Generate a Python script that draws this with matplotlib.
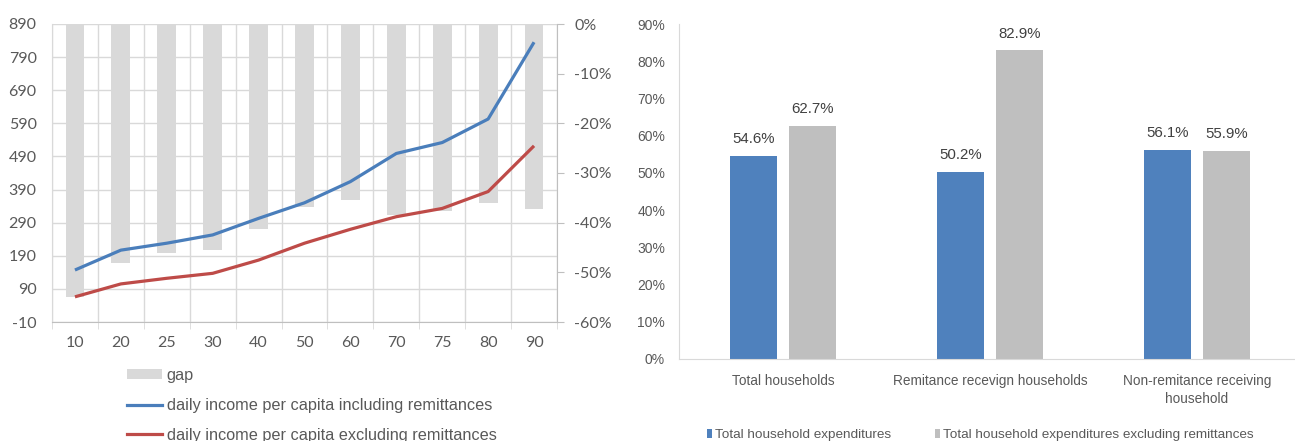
import matplotlib
matplotlib.use("Agg")
import matplotlib.pyplot as plt
from matplotlib.patches import Patch
from matplotlib.lines import Line2D
from matplotlib.ticker import FuncFormatter, FixedLocator

plt.rcParams["axes.unicode_minus"] = False

# ---- Income by percentile ----
percentiles = ["10", "20", "25", "30", "40", "50", "60", "70", "75", "80", "90"]
income_incl = [147, 207, 228, 253, 303, 350, 414, 499, 532, 603, 835]
income_excl = [66, 105, 122, 137, 177, 228, 270, 308, 333, 384, 522]
gap_pct = [-0.550, -0.481, -0.461, -0.455, -0.413, -0.368, -0.354, -0.385, -0.376, -0.360, -0.373]

# ---- Expenditure shares by household type ----
household_types = ["Total households", "Remitance recevign households",
                   "Non-remitance receiving\nhousehold"]
share_total = [0.546, 0.502, 0.561]
share_excl = [0.627, 0.829, 0.559]

BLUE_LINE = "#4A7EBB"
RED_LINE = "#BE4B48"
GAP_GREY = "#D9D9D9"
BAR_BLUE = "#4F81BD"
BAR_GREY = "#BFBFBF"
TXT = "#595959"
GRID = "#D9D9D9"

W, H = 1295, 441
fig = plt.figure(figsize=(W / 100, H / 100), dpi=100)

def fx(px):
    return px / W

def fy(py):
    return 1 - py / H

lato = ["Lato", "DejaVu Sans"]
arial = ["Liberation Sans", "DejaVu Sans"]

def style_labels(labels, family, size, color=TXT):
    for lab in labels:
        lab.set_fontfamily(family)
        lab.set_fontsize(size)
        lab.set_color(color)

# ---------------- left panel ----------------
pos_left = [fx(52), fy(322), fx(557) - fx(52), fy(24) - fy(322)]
ax = fig.add_axes(pos_left)
ax.set_zorder(0)
x = list(range(len(percentiles)))
ax.set_xlim(-0.5, len(percentiles) - 0.5)
ax.set_ylim(-10, 890)
ax.set_yticks(list(range(-10, 891, 100)))
ax.set_xticks(x)
ax.set_xticklabels(percentiles)
ax.xaxis.set_minor_locator(FixedLocator([i + 0.5 for i in range(-1, len(percentiles))]))
ax.grid(True, which="major", axis="y", color=GRID, lw=1)
ax.grid(True, which="minor", axis="x", color=GRID, lw=1)
ax.set_axisbelow(True)
ax.tick_params(axis="x", which="major", length=0, pad=10)
ax.tick_params(axis="x", which="minor", length=5, color=GRID)
ax.tick_params(axis="y", length=0, pad=11)
style_labels(ax.get_xticklabels() + ax.get_yticklabels(), lato, 11.5)
for s in ["top", "right"]:
    ax.spines[s].set_visible(False)
ax.spines["left"].set_color(GRID)
ax.spines["bottom"].set_color("#BFBFBF")

# gap bars on the percentage axis
ax_gap = ax.twinx()
ax_gap.set_zorder(1)
ax_gap.patch.set_visible(False)
ax_gap.set_ylim(-0.6, 0)
ax_gap.bar(x, gap_pct, width=0.41, color=GAP_GREY, zorder=2)
ax_gap.set_yticks([-0.6, -0.5, -0.4, -0.3, -0.2, -0.1, 0.0])
ax_gap.yaxis.set_major_formatter(
    FuncFormatter(lambda v, p: "0%" if abs(v) < 1e-9 else f"{v:.0%}"))
ax_gap.tick_params(axis="y", length=5, color="#BFBFBF", pad=7.5)
style_labels(ax_gap.get_yticklabels(), lato, 11.5)
for s in ["top", "left", "bottom"]:
    ax_gap.spines[s].set_visible(False)
ax_gap.spines["right"].set_color("#BFBFBF")

# income lines on top
ax_line = ax.twinx()
ax_line.set_zorder(2)
ax_line.patch.set_visible(False)
ax_line.set_ylim(ax.get_ylim())
ax_line.plot(x, income_incl, color=BLUE_LINE, lw=2.3, solid_capstyle="butt")
ax_line.plot(x, income_excl, color=RED_LINE, lw=2.3, solid_capstyle="butt")
ax_line.axis("off")

left_handles = [
    Patch(facecolor=GAP_GREY, edgecolor="none"),
    Line2D([], [], color=BLUE_LINE, lw=2.3),
    Line2D([], [], color=RED_LINE, lw=2.3),
]
left_labels = ["gap",
               "daily income per capita including remittances",
               "daily income per capita excluding remittances"]
fig.legend(left_handles, left_labels, loc="upper left",
           bbox_to_anchor=(fx(127), fy(368)), frameon=False,
           prop=dict(family=arial, size=11.7),
           labelcolor=TXT, handlelength=2.15, handleheight=0.6,
           handletextpad=0.3, labelspacing=0.92, borderaxespad=0, borderpad=0)

# ---------------- right panel ----------------
pos_right = [fx(679), fy(359), fx(1295) - fx(679), fy(24) - fy(359)]
bx = fig.add_axes(pos_right)
c = list(range(len(household_types)))
bw = 0.227
off = 0.1425
b1 = bx.bar([i - off for i in c], share_total, width=bw, color=BAR_BLUE)
b2 = bx.bar([i + off for i in c], share_excl, width=bw, color=BAR_GREY)
bx.set_ylim(0, 0.9)
bx.set_xlim(-0.502, 2.473)
bx.set_yticks([i / 10 for i in range(10)])
bx.yaxis.set_major_formatter(FuncFormatter(lambda v, p: f"{v:.0%}"))
bx.set_xticks(c)
bx.set_xticklabels(household_types, linespacing=1.35)
bx.tick_params(axis="both", length=0)
bx.tick_params(axis="y", pad=10)
bx.tick_params(axis="x", pad=11)
style_labels(bx.get_xticklabels(), arial, 9.8)
style_labels(bx.get_yticklabels(), arial, 10)
for s in ["top", "right"]:
    bx.spines[s].set_visible(False)
bx.spines["left"].set_color(GRID)
bx.spines["bottom"].set_color(GRID)

for bars, vals in ((b1, share_total), (b2, share_excl)):
    for rect, v in zip(bars, vals):
        bx.annotate(f"{v:.1%}", (rect.get_x() + rect.get_width() / 2, v),
                    xytext=(0, 7), textcoords="offset points",
                    ha="center", va="bottom", fontsize=10.8,
                    family=arial, color="#404040")

right_handles = [Patch(facecolor=BAR_BLUE, edgecolor="none"),
                 Patch(facecolor=BAR_GREY, edgecolor="none")]
right_labels = ["Total household expenditures",
                "Total household expenditures excluding remittances"]
fig.legend(right_handles, right_labels, loc="center left",
           bbox_to_anchor=(fx(707), fy(435)), frameon=False, ncol=2,
           prop=dict(family=arial, size=9.7), labelcolor=TXT,
           handlelength=0.38, handleheight=0.6, handletextpad=0.25,
           columnspacing=3.2, borderaxespad=0, borderpad=0)

fig.savefig("out.png", dpi=100)
